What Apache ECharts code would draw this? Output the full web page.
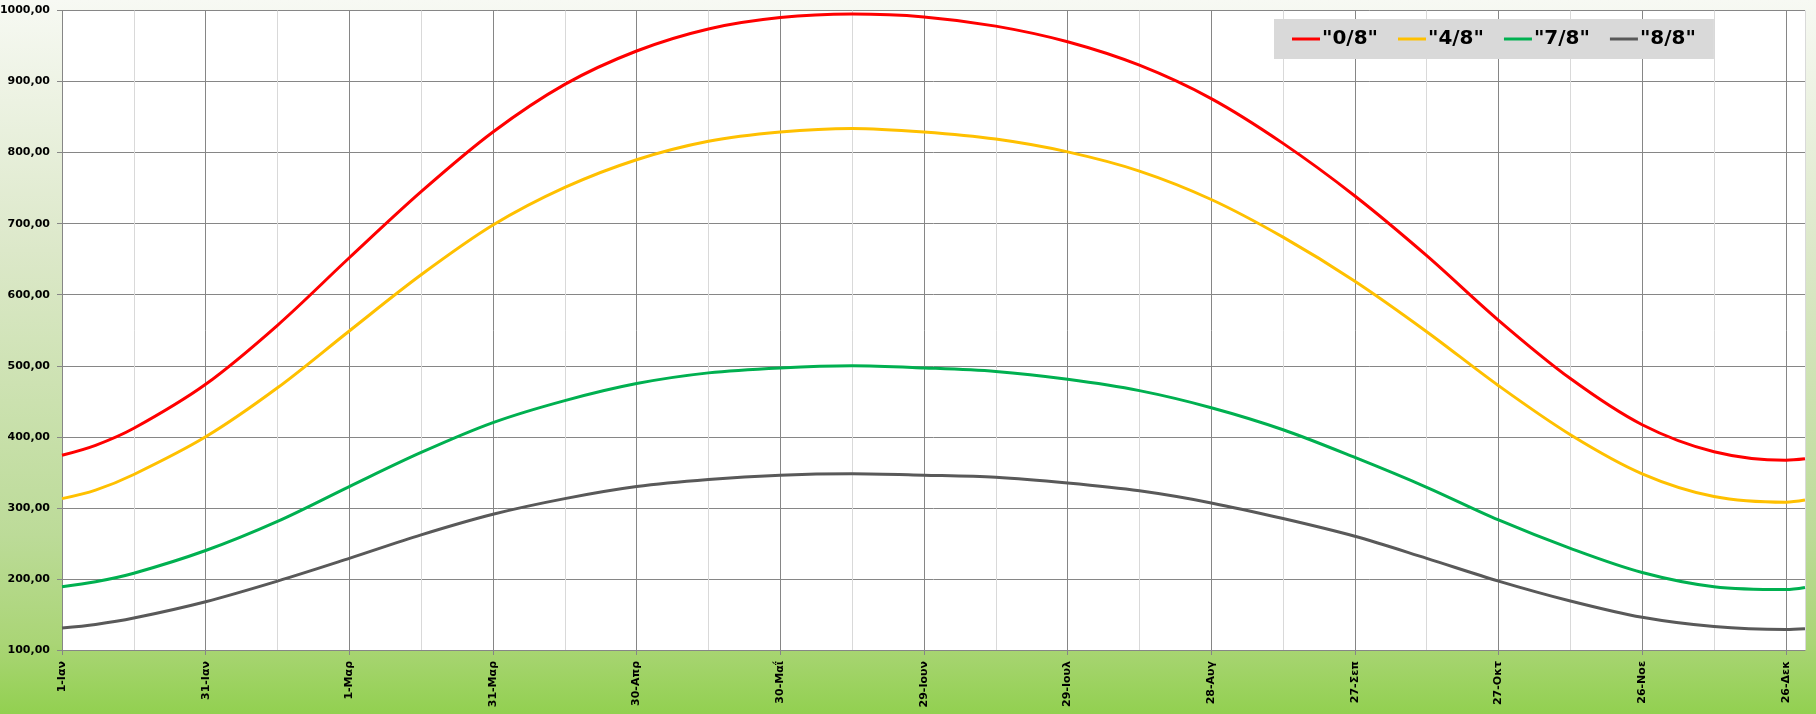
<!DOCTYPE html>
<html>
<head>
<meta charset="utf-8">
<script src="https://cdn.jsdelivr.net/npm/echarts@6/dist/echarts.min.js"></script>
<style>
html,body{margin:0;padding:0;background:#fff;}
#chart{width:1816px;height:714px;}
</style>
</head>
<body>
<div id="chart"></div>
<script>
// Day-of-year positions (0 = 1-Ιαν) at which values were read
const days = [0,7,15,30,45,60,75,90,105,120,135,150,165,180,195,210,225,240,255,270,285,300,315,330,345,360,364];
// Tick labels every 30 days
const tickLabels = ['1-Ιαν','31-Ιαν','1-Μαρ','31-Μαρ','30-Απρ','30-Μαΐ','29-Ιουν','29-Ιουλ','28-Αυγ','27-Σεπ','27-Οκτ','26-Νοε','26-Δεκ'];
const seriesNames = ['"0/8"','"4/8"','"7/8"','"8/8"'];
const v08 = [374,388,412,474,557,652,745,829,896,943,974,990,995,991,978,956,923,876,813,739,655,564,482,417,379,367,369];
const v48 = [313,325,347,400,469,549,628,698,751,790,816,829,834,829,819,801,774,734,681,619,548,472,403,348,316,308,311];
const v78 = [189,196,208,240,281,330,378,420,451,475,490,497,500,497,492,481,465,441,410,371,329,283,243,209,189,185,188];
const v88 = [131,136,145,168,197,229,262,291,313,330,340,346,348,346,343,335,324,307,285,260,229,197,169,146,133,129,130];
const colors = ['#ff0000','#ffc000','#00b050','#595959'];

const allValues = [v08, v48, v78, v88];
const FONT = '"DejaVu Sans", Verdana, sans-serif';

const chart = echarts.init(document.getElementById('chart'), null, {renderer:'canvas'});
chart.setOption({
  animation: false,
  backgroundColor: {
    type: 'linear', x: 0, y: 0, x2: 0, y2: 1,
    colorStops: [
      {offset: 0, color: '#f7f9f3'},
      {offset: 0.35, color: '#dce8c9'},
      {offset: 0.75, color: '#bcdb98'},
      {offset: 0.9, color: '#aad576'},
      {offset: 1, color: '#92d050'}
    ]
  },
  grid: {left: 62, right: 11, top: 10.5, bottom: 64, containLabel: false, outerBoundsMode: 'none',
         backgroundColor: '#ffffff', show: true, borderWidth: 0},
  legend: {
    left: 1274, top: 19,
    backgroundColor: '#d9d9d9',
    padding: [8, 18, 8, 18],
    itemGap: 20,
    itemWidth: 28, itemHeight: 3,
    icon: 'rect',
    textStyle: {fontFamily: FONT, fontWeight: 'bold', fontSize: 20, lineHeight: 24, color: '#000', padding: [0,0,0,-3]},
    data: seriesNames
  },
  xAxis: [
    {
      type: 'value', min: 0, max: 364, interval: 30,
      axisLine: {show: true, lineStyle: {color: '#868686', width: 1}},
      axisTick: {show: true, length: 5, lineStyle: {color: '#868686'}},
      splitLine: {show: false},
      axisLabel: {
        rotate: 90, margin: 11, fontFamily: FONT, fontWeight: 'bold', fontSize: 11, color: '#000',
        showMaxLabel: false,
        formatter: function (v) { return (v % 30 === 0) ? tickLabels[v / 30] : ''; }
      }
    },
    {
      type: 'value', min: 0, max: 364, interval: 15, position: 'top',
      axisLine: {show: false}, axisTick: {show: false}, axisLabel: {show: false},
      splitLine: {show: true, lineStyle: {color: ['#868686', '#d9d9d9'], width: 1}}
    }
  ],
  yAxis: {
    type: 'value', min: 100, max: 1000, interval: 100,
    axisLine: {show: true, lineStyle: {color: '#868686', width: 1}},
    axisTick: {show: true, length: 5, lineStyle: {color: '#868686'}},
    splitLine: {show: true, lineStyle: {color: '#868686', width: 1}},
    axisLabel: {
      margin: 12, fontFamily: FONT, fontWeight: 'bold', fontSize: 11, color: '#000',
      formatter: function (v) { return v.toFixed(2).replace('.', ','); }
    }
  },
  series: seriesNames.map(function (name, i) {
    return {
      name: name, type: 'line', xAxisIndex: 0,
      smooth: 0.33, showSymbol: false, symbol: 'none',
      lineStyle: {color: colors[i], width: 3},
      itemStyle: {color: colors[i]},
      data: days.map(function (d, k) { return [d, allValues[i][k]]; })
    };
  })
});
</script>
</body>
</html>
